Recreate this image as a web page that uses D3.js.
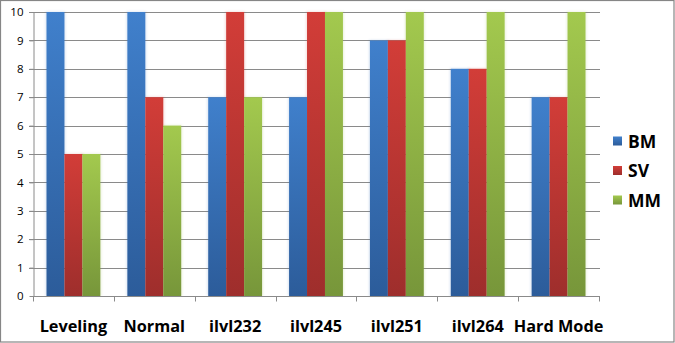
<!DOCTYPE html>
<html>
<head>
<meta charset="utf-8">
<script src="https://cdn.jsdelivr.net/npm/d3@7"></script>
<style>
  html, body { margin: 0; padding: 0; background: #fff; }
  svg { display: block; }
</style>
</head>
<body>
<svg id="chart" width="675" height="343"></svg>
<script>
// Raid categories and per-spec ratings
const categories = ["Leveling", "Normal", "ilvl232", "ilvl245", "ilvl251", "ilvl264", "Hard Mode"];
const seriesNames = ["BM", "SV", "MM"];
const bmValues = [10, 10, 7, 7, 9, 8, 7];
const svValues = [5, 7, 10, 10, 9, 8, 7];
const mmValues = [5, 6, 7, 10, 10, 10, 10];
const yTicks = [0, 1, 2, 3, 4, 5, 6, 7, 8, 9, 10];

const seriesValues = [bmValues, svValues, mmValues];
const palette = [
  { top: "#4080CC", bottom: "#2C5C9A" },
  { top: "#D23D38", bottom: "#9E2E2C" },
  { top: "#A3C94E", bottom: "#77963A" }
];
const legendColors = ["#3A74BE", "#C23935", "#8DB240"];

const svg = d3.select("#chart");
const W = 675, H = 343;

// Outer chart border
svg.append("rect")
  .attr("x", 0.5).attr("y", 0.5)
  .attr("width", W - 1.5).attr("height", H - 1.5)
  .attr("fill", "#fff").attr("stroke", "#868686").attr("stroke-width", 1.2);

const plot = { left: 33, right: 599, top: 12, bottom: 296 };

const x0 = d3.scaleBand()
  .domain(categories)
  .range([plot.left, plot.right])
  .paddingInner(0).paddingOuter(0);

const bw = x0.bandwidth();
const barWidth = bw * 0.222;
const x1 = d3.scaleBand()
  .domain(seriesNames)
  .range([(bw - barWidth * 3) / 2, (bw + barWidth * 3) / 2]);

const y = d3.scaleLinear().domain([0, 10]).range([plot.bottom, plot.top]);

// Gradients
const defs = svg.append("defs");
palette.forEach((p, i) => {
  const g = defs.append("linearGradient")
    .attr("id", "grad" + i)
    .attr("x1", 0).attr("y1", 0).attr("x2", 0).attr("y2", 1);
  g.append("stop").attr("offset", "0%").attr("stop-color", p.top);
  g.append("stop").attr("offset", "100%").attr("stop-color", p.bottom);
});
const blur = defs.append("filter").attr("id", "halo")
  .attr("x", "-30%").attr("y", "-5%").attr("width", "160%").attr("height", "110%");
blur.append("feGaussianBlur").attr("stdDeviation", 1.2);

// Gridlines
svg.append("g")
  .selectAll("line")
  .data(yTicks.filter(t => t > 0))
  .join("line")
  .attr("x1", plot.left - 4).attr("x2", plot.right + 1)
  .attr("y1", d => Math.round(y(d)) + 0.5).attr("y2", d => Math.round(y(d)) + 0.5)
  .attr("stroke", "#8a8a8a").attr("stroke-width", 1);

// Y axis
const yAxis = d3.axisLeft(y).tickValues(yTicks).tickSize(4).tickSizeOuter(0).tickPadding(6);
const yG = svg.append("g")
  .attr("transform", `translate(${plot.left + 0.5},0)`)
  .call(yAxis);
yG.select(".domain").attr("stroke", "#8a8a8a");
yG.selectAll(".tick line").attr("stroke", "#8a8a8a");
yG.selectAll("text")
  .attr("font-family", "'Open Sans', 'DejaVu Sans', sans-serif")
  .attr("font-size", 11.5).attr("fill", "#000");

// Bars
categories.forEach((cat, ci) => {
  const g = svg.append("g").attr("transform", `translate(${x0(cat)},0)`);
  seriesNames.forEach((s, si) => {
    const v = seriesValues[si][ci];
    const bx = x1(s) + (x1.bandwidth() - barWidth) / 2;
    g.append("rect")
      .attr("x", bx - 1).attr("y", y(v) - 0.5)
      .attr("width", barWidth + 2).attr("height", y(0) - y(v) + 0.5)
      .attr("fill", legendColors[si]).attr("opacity", 0.18)
      .attr("filter", "url(#halo)");
  });
  seriesNames.forEach((s, si) => {
    const v = seriesValues[si][ci];
    const bx = x1(s) + (x1.bandwidth() - barWidth) / 2;
    g.append("rect")
      .attr("x", bx).attr("y", y(v))
      .attr("width", barWidth).attr("height", y(0) - y(v))
      .attr("fill", `url(#grad${si})`);
  });
});

// X axis
const xAxis = d3.axisBottom(x0).tickSize(0).tickPadding(0);
const xG = svg.append("g")
  .attr("transform", `translate(0,${plot.bottom + 0.5})`)
  .call(xAxis);
xG.select(".domain").remove();
xG.append("line")
  .attr("x1", plot.left).attr("x2", plot.right + 1)
  .attr("y1", 0).attr("y2", 0)
  .attr("stroke", "#8a8a8a");
xG.selectAll(".sep")
  .data(d3.range(categories.length + 1))
  .join("line")
  .attr("class", "sep")
  .attr("x1", i => Math.round(plot.left + i * bw) + 0.5)
  .attr("x2", i => Math.round(plot.left + i * bw) + 0.5)
  .attr("y1", 0).attr("y2", 5)
  .attr("stroke", "#8a8a8a");
xG.selectAll(".tick text")
  .attr("y", 35)
  .attr("dy", 0)
  .attr("font-family", "'Open Sans', 'DejaVu Sans', sans-serif")
  .attr("font-weight", "bold")
  .attr("font-size", 16.3)
  .attr("fill", "#000");

// Legend
const legend = svg.append("g");
seriesNames.forEach((s, i) => {
  const cy = 141 + i * 29.5;
  legend.append("rect")
    .attr("x", 613).attr("y", cy - 4.5)
    .attr("width", 9).attr("height", 9)
    .attr("fill", `url(#grad${i})`);
  legend.append("text")
    .attr("x", 628).attr("y", cy + 6.5)
    .attr("font-family", "'Open Sans', 'DejaVu Sans', sans-serif")
    .attr("font-weight", "bold")
    .attr("font-size", 17.5)
    .attr("fill", "#000")
    .text(s);
});
</script>
</body>
</html>
